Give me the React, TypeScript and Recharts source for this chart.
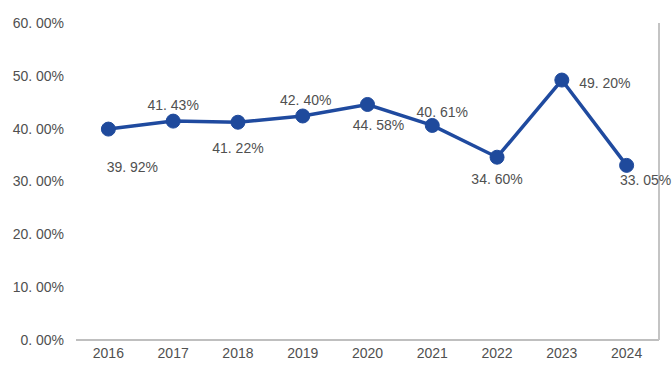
import { LabelList, Line, LineChart, XAxis, YAxis } from "recharts";

const years = ["2016", "2017", "2018", "2019", "2020", "2021", "2022", "2023", "2024"];
const rates = [39.92, 41.43, 41.22, 42.4, 44.58, 40.61, 34.6, 49.2, 33.05];
const yTicks = [0, 10, 20, 30, 40, 50, 60];

const chartData = years.map((year, i) => ({ year, rate: rates[i] }));

// where each value label sits relative to its point (dx, dy)
const labelOffsets: [number, number][] = [
    [24, 38],
    [0, -16],
    [0, 26],
    [3, -16],
    [11, 21],
    [10, -13],
    [0, 22],
    [43, 3],
    [19, 15],
];

const font = "Liberation Sans, Arial, sans-serif";
const fmt = (v: number) => v.toFixed(2).replace(".", ". ") + "%";

const ValueLabel = (props: any) => {
    const { x, y, value, index } = props;
    const [dx, dy] = labelOffsets[index] ?? [0, -14];
    return (
        <text
            x={x + dx}
            y={y + dy}
            textAnchor="middle"
            dominantBaseline="central"
            fill="#505050"
            fontSize={14}
            fontFamily={font}
        >
            {fmt(value)}
        </text>
    );
};

export default function App() {
    return (
        <div style={{ position: "absolute", left: 0, top: 0, width: 672, height: 378, background: "#fff" }}>
            <LineChart
                width={672}
                height={378}
                data={chartData}
                margin={{ top: 23, right: 12, left: 0, bottom: 8 }}
            >
                <XAxis
                    dataKey="year"
                    scale="band"
                    axisLine={{ stroke: "#bfbfbf", strokeWidth: 2 }}
                    tickLine={false}
                    tickSize={0}
                    tickMargin={8}
                    height={30}
                    tick={{ fill: "#505050", fontSize: 14, fontFamily: font }}
                />
                <YAxis
                    domain={[0, 60]}
                    ticks={yTicks}
                    width={76}
                    axisLine={false}
                    tickLine={false}
                    tickSize={0}
                    tickMargin={12}
                    tickFormatter={fmt}
                    tick={{ fill: "#505050", fontSize: 14, fontFamily: font }}
                />
                <YAxis
                    yAxisId="edge"
                    orientation="right"
                    domain={[0, 60]}
                    width={1}
                    tick={false}
                    tickLine={false}
                    axisLine={{ stroke: "#c4c4c4", strokeWidth: 2 }}
                />
                <Line
                    dataKey="rate"
                    stroke="#1f4a9f"
                    strokeWidth={3.5}
                    dot={{ r: 7, fill: "#1f4a9c", stroke: "#1f4a9c", strokeWidth: 1 }}
                    isAnimationActive={false}
                >
                    <LabelList dataKey="rate" content={ValueLabel} />
                </Line>
            </LineChart>
        </div>
    );
}
